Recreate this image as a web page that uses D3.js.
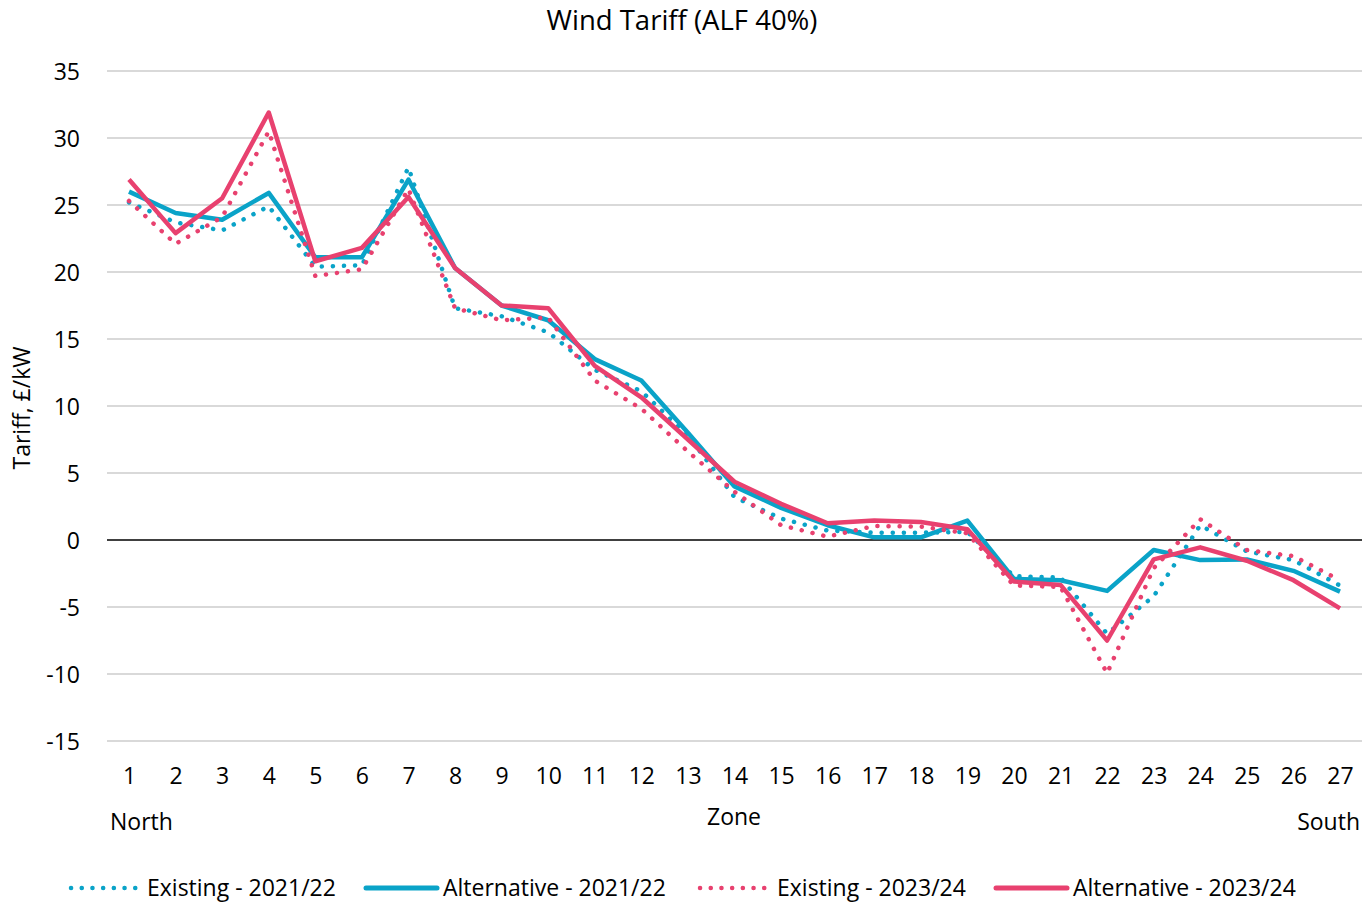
<!DOCTYPE html>
<html>
<head>
<meta charset="utf-8">
<script src="https://cdn.jsdelivr.net/npm/d3@7"></script>
<style>
  html, body { margin: 0; padding: 0; background: #fff; }
  text { font-family: "Open Sans", sans-serif; fill: #000; }
</style>
</head>
<body>
<svg id="chart" width="1364" height="902"></svg>
<script>
const zones = ["1","2","3","4","5","6","7","8","9","10","11","12","13","14","15","16","17","18","19","20","21","22","23","24","25","26","27"];
const existing2122 = [25.2,23.7,23.1,24.9,20.4,20.5,27.8,17.3,16.7,15.5,12.7,11.1,7.8,3.2,1.6,0.7,0.55,0.55,0.6,-2.7,-2.8,-7.0,-4.2,1.1,-0.85,-1.5,-3.4];
const alternative2122 = [26.0,24.4,23.9,25.9,21.1,21.1,26.9,20.3,17.5,16.4,13.5,11.9,8.0,4.0,2.4,1.1,0.2,0.2,1.45,-2.9,-3.0,-3.8,-0.75,-1.5,-1.45,-2.3,-3.85];
const existing2324 = [25.3,22.1,24.1,30.5,19.7,20.2,26.2,17.3,16.4,16.6,11.9,9.8,6.6,3.6,1.1,0.25,1.05,1.0,0.5,-3.4,-3.5,-9.95,-2.1,1.55,-0.75,-1.2,-3.0];
const alternative2324 = [26.9,22.9,25.5,31.9,20.8,21.8,25.6,20.3,17.5,17.3,13.0,10.65,7.5,4.35,2.7,1.25,1.45,1.35,0.8,-3.1,-3.35,-7.5,-1.45,-0.55,-1.55,-3.0,-5.1];
const yTicks = [-15,-10,-5,0,5,10,15,20,25,30,35];
const seriesNames = ["Existing - 2021/22","Alternative - 2021/22","Existing - 2023/24","Alternative - 2023/24"];

const BLUE = "#0aa3c8", PINK = "#e8416f";
const series = [
  {name: seriesNames[0], values: existing2122, color: BLUE, dotted: true},
  {name: seriesNames[1], values: alternative2122, color: BLUE, dotted: false},
  {name: seriesNames[2], values: existing2324, color: PINK, dotted: true},
  {name: seriesNames[3], values: alternative2324, color: PINK, dotted: false}
];

const svg = d3.select("#chart");
const x = d3.scalePoint().domain(zones).range([129, 1340]);
const y = d3.scaleLinear().domain([-15, 35]).range([741, 71]);
const gridX0 = 107, gridX1 = 1362;
const FS = "23px";

// title
svg.append("text").attr("x", 682).attr("y", 20).attr("dy", "0.35em").attr("text-anchor", "middle")
  .style("font-size", "27.5px").text("Wind Tariff (ALF 40%)");

// gridlines
svg.append("g").selectAll("line").data(yTicks.filter(t => t !== 0)).join("line")
  .attr("x1", gridX0).attr("x2", gridX1)
  .attr("y1", d => y(d)).attr("y2", d => y(d))
  .attr("stroke", "#d9d9d9").attr("stroke-width", 2);

// y axis labels
const yAxis = d3.axisLeft(y).tickValues(yTicks).tickFormat(d => String(d)).tickSize(0).tickPadding(0);
const gy = svg.append("g").attr("transform", "translate(80,0)").call(yAxis);
gy.select(".domain").remove();
gy.selectAll("text").style("font-size", FS).attr("dy", "0.35em").attr("font-family", null);

// x axis labels
const xAxis = d3.axisBottom(x).tickSize(0).tickPadding(0);
const gx = svg.append("g").attr("transform", "translate(0,776)").call(xAxis);
gx.select(".domain").remove();
gx.selectAll("text").style("font-size", FS).attr("y", 0).attr("dy", "0.35em").attr("font-family", null);

// zero line
svg.append("line").attr("x1", gridX0).attr("x2", gridX1)
  .attr("y1", y(0)).attr("y2", y(0)).attr("stroke", "#000").attr("stroke-width", 1.5);

// series
const line = d3.line().x((d, i) => x(zones[i])).y(d => y(d));
series.forEach(s => {
  svg.append("path").datum(s.values)
    .attr("d", line).attr("fill", "none")
    .attr("stroke", s.color).attr("stroke-width", 4.5)
    .attr("stroke-linecap", s.dotted ? "round" : "butt")
    .attr("stroke-linejoin", "round")
    .attr("stroke-dasharray", s.dotted ? "0.1 11" : null);
});

// axis titles
svg.append("text").attr("transform", "translate(22,408) rotate(-90)").attr("dy", "0.35em").attr("text-anchor", "middle")
  .style("font-size", FS).text("Tariff, £/kW");
svg.append("text").attr("x", 734).attr("y", 817).attr("dy", "0.35em").attr("text-anchor", "middle")
  .style("font-size", FS).text("Zone");
svg.append("text").attr("x", 110).attr("y", 822).attr("dy", "0.35em").attr("text-anchor", "start")
  .style("font-size", FS).text("North");
svg.append("text").attr("x", 1360).attr("y", 822).attr("dy", "0.35em").attr("text-anchor", "end")
  .style("font-size", FS).text("South");

// legend
const legendItems = [
  {s: series[0], x0: 71, x1: 136, tx: 147},
  {s: series[1], x0: 366, x1: 437, tx: 443},
  {s: series[2], x0: 700, x1: 766, tx: 777},
  {s: series[3], x0: 996, x1: 1067, tx: 1073}
];
const lg = svg.append("g");
legendItems.forEach(it => {
  lg.append("line").attr("x1", it.x0).attr("x2", it.x1).attr("y1", 888).attr("y2", 888)
    .attr("stroke", it.s.color).attr("stroke-width", it.s.dotted ? 4.5 : 5)
    .attr("stroke-linecap", "round")
    .attr("stroke-dasharray", it.s.dotted ? "0.1 10.6" : null);
  lg.append("text").attr("x", it.tx).attr("y", 888).attr("dy", "0.35em")
    .style("font-size", FS).text(it.s.name);
});
</script>
</body>
</html>
